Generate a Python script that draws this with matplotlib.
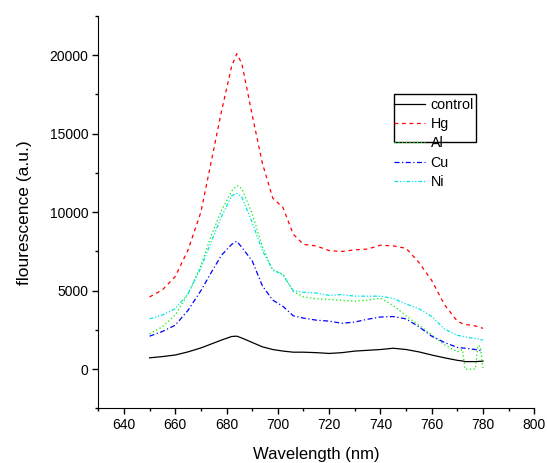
import numpy as np
import matplotlib
matplotlib.use('Agg')
import matplotlib.pyplot as plt
from matplotlib.patches import Rectangle
from matplotlib.ticker import MultipleLocator

plt.rcParams['font.family'] = ['Liberation Sans', 'DejaVu Sans']

# wavelength grid (nm) and emission
wavelength = [650, 655, 660, 665, 670, 674, 678, 682, 684, 686, 690, 694, 698, 702,
              706, 710, 715, 720, 725, 730, 735, 740, 745, 750, 755, 760, 765, 770,
              772, 773, 777, 778, 779, 780]

control = [720, 800, 900, 1100, 1350, 1600, 1850, 2080, 2100, 1980, 1700, 1420, 1250, 1150,
           1080, 1080, 1050, 1000, 1050, 1150, 1200, 1250, 1330, 1250, 1100, 900, 720, 560,
           520, 480, 480, 490, 500, 510]
hg = [4600, 5050, 5900, 7600, 10000, 13200, 16400, 19300, 20100, 19450, 16200, 13100, 10900, 10300,
      8600, 7950, 7850, 7550, 7500, 7600, 7650, 7900, 7850, 7700, 6800, 5650, 4100, 3050,
      2900, 2850, 2750, 2700, 2650, 2600]
al = [2250, 2700, 3450, 4800, 6600, 8500, 10100, 11350, 11700, 11500, 9900, 7800, 6300, 6050,
      4950, 4600, 4480, 4440, 4380, 4330, 4400, 4520, 4050, 3400, 2800, 2180, 1550, 1100,
      1250, 0, 0, 1500, 1450, 0]
cu = [2100, 2400, 2800, 3750, 5000, 6150, 7250, 7950, 8150, 7750, 6900, 5300, 4400, 4000,
      3400, 3250, 3120, 3060, 2920, 3000, 3180, 3320, 3350, 3200, 2700, 2100, 1700, 1380,
      1350, 1330, 1250, 1230, 1180, 1150]
ni = [3200, 3450, 3850, 4800, 6450, 8100, 9700, 11050, 11200, 10950, 9350, 7550, 6350, 6000,
      5000, 4900, 4850, 4700, 4750, 4650, 4650, 4650, 4500, 4150, 3850, 3350, 2550, 2150,
      2100, 2050, 1950, 1920, 1880, 1850]

fig = plt.figure(figsize=(5.47, 4.63), dpi=100)
ax = fig.add_axes([0.1797, 0.118, 0.7971, 0.8474])

lw = 0.9
ax.plot(wavelength, control, color='black', linestyle='-', linewidth=lw, label='control')
ax.plot(wavelength, hg, color='#ff0000', linestyle=(0, (3, 3)), linewidth=lw, label='Hg')
ax.plot(wavelength, al, color='#00ee00', linestyle=(0, (1, 2)), linewidth=lw, label='Al')
ax.plot(wavelength, cu, color='#0000ff', linestyle=(0, (4, 2, 1, 2)), linewidth=lw, label='Cu')
ax.plot(wavelength, ni, color='#00e5e5', linestyle=(0, (3, 1.5, 1, 1.5, 1, 1.5)), linewidth=lw, label='Ni')

ax.set_xlim(630, 800)
ax.set_ylim(-2500, 22500)
ax.xaxis.set_major_locator(MultipleLocator(20))
ax.xaxis.set_minor_locator(MultipleLocator(10))
ax.yaxis.set_major_locator(MultipleLocator(5000))
ax.yaxis.set_minor_locator(MultipleLocator(2500))
ax.tick_params(which='major', direction='out', length=4, width=1, labelsize=10, pad=3)
ax.tick_params(which='minor', direction='out', length=2.5, width=1)
ax.spines['top'].set_visible(False)
ax.spines['right'].set_visible(False)

ax.set_xlabel('Wavelength (nm)', fontsize=12, labelpad=11)
ax.set_ylabel('flourescence (a.u.)', fontsize=12.5, labelpad=13)

leg = fig.legend(loc='upper left', bbox_to_anchor=(0.7203, 0.788), frameon=False,
                 fontsize=10.3, handlelength=2.2, handletextpad=0.35, labelspacing=0.36,
                 borderpad=0, borderaxespad=0)
fig.add_artist(Rectangle((0.7203, 0.6933), 0.1499, 0.1037, transform=fig.transFigure,
                         fill=False, edgecolor='black', linewidth=1))

fig.savefig('out.png', dpi=100)
